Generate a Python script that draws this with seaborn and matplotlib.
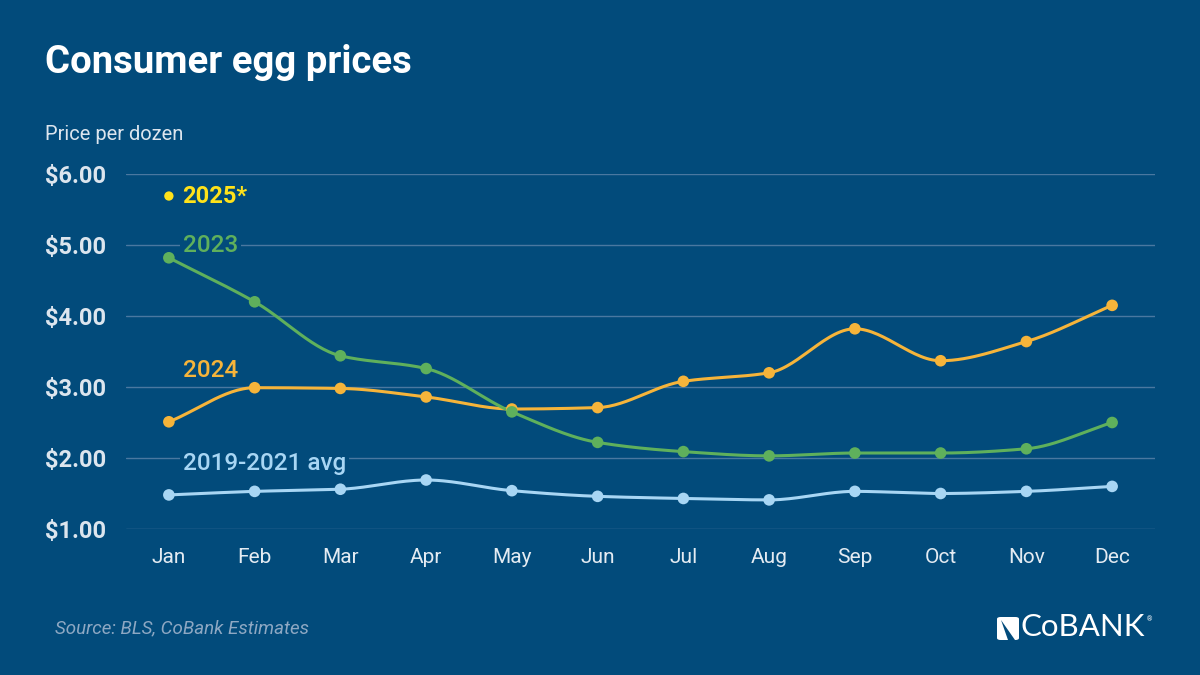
import numpy as np
import pandas as pd
import matplotlib
matplotlib.use('Agg')
import matplotlib.pyplot as plt
import seaborn as sns
from matplotlib import font_manager
from matplotlib.patches import FancyBboxPatch, Polygon

# data
months = ["Jan", "Feb", "Mar", "Apr", "May", "Jun", "Jul", "Aug", "Sep", "Oct", "Nov", "Dec"]
prices_2023 = [4.82, 4.20, 3.44, 3.26, 2.65, 2.22, 2.09, 2.03, 2.07, 2.07, 2.13, 2.50]
prices_2024 = [2.51, 2.99, 2.98, 2.86, 2.69, 2.71, 3.08, 3.20, 3.82, 3.37, 3.64, 4.15]
prices_avg = [1.48, 1.53, 1.56, 1.69, 1.54, 1.46, 1.43, 1.41, 1.53, 1.50, 1.53, 1.60]
price_2025_jan = 5.69
y_ticks = [1, 2, 3, 4, 5, 6]

BG = "#024b7b"
GRID = "#4a78a0"
TXT = "#dce5ee"
C23 = "#5fb05c"
C24 = "#f6b43a"
CAVG = "#a8d6f4"
C25 = "#ffe21a"

installed = {f.name for f in font_manager.fontManager.ttflist}
narrow = "Liberation Sans Narrow" if "Liberation Sans Narrow" in installed else "Roboto"
FAM = [narrow, 'DejaVu Sans']

sns.set_theme(style="white")
plt.rcParams['font.family'] = ['Roboto', 'DejaVu Sans']


def monotone_curve(y, n=30):
    # monotone cubic (Fritsch-Carlson), only used to draw the curved line between the points
    y = np.asarray(y, float)
    x = np.arange(len(y), dtype=float)
    d = np.diff(y)
    m = np.zeros(len(y))
    m[0], m[-1] = d[0], d[-1]
    for i in range(1, len(y) - 1):
        if d[i - 1] * d[i] > 0:
            m[i] = 2.0 / (1.0 / d[i - 1] + 1.0 / d[i])
    xs, ys = [], []
    for i in range(len(y) - 1):
        t = np.linspace(0, 1, n, endpoint=False)
        h00 = 2 * t**3 - 3 * t**2 + 1
        h10 = t**3 - 2 * t**2 + t
        h01 = -2 * t**3 + 3 * t**2
        h11 = t**3 - t**2
        xs.append(x[i] + t)
        ys.append(h00 * y[i] + h10 * m[i] + h01 * y[i + 1] + h11 * m[i + 1])
    xs.append([x[-1]])
    ys.append([y[-1]])
    return np.concatenate(xs), np.concatenate(ys)


fig = plt.figure(figsize=(12, 6.75), dpi=100, facecolor=BG)
ax = fig.add_axes([0.105, 0.2163, 0.8575, 0.5259])
ax.set_facecolor(BG)

series = [("2019-2021 avg", prices_avg, CAVG), ("2024", prices_2024, C24), ("2023", prices_2023, C23)]
idx = np.arange(len(months))
for name, vals, col in series:
    cx, cy = monotone_curve(vals)
    sns.lineplot(x=cx, y=cy, color=col, linewidth=2.2, ax=ax, zorder=3, sort=False)
    sns.scatterplot(x=idx, y=vals, color=col, s=70, edgecolor="none", ax=ax, zorder=4, clip_on=False)

sns.scatterplot(x=[0], y=[price_2025_jan], color=C25, s=45, edgecolor="none", ax=ax, zorder=4, clip_on=False)

ax.set_xlim(-0.5, 11.5)
ax.set_ylim(1, 6)
ax.set_yticks(y_ticks)
ax.set_yticklabels([f"${v:.2f}" for v in y_ticks], fontsize=17, fontweight="bold", color=TXT)
ax.set_xticks(idx)
ax.set_xticklabels(months, fontsize=15, color="#e4ebf2", family=FAM)
ax.set_xticks(np.arange(-0.5, 11.0, 1.0), minor=True)
ax.tick_params(axis="y", length=0, pad=14)
ax.tick_params(axis="x", which="major", length=0, pad=14)
ax.tick_params(axis="x", which="minor", length=8, width=1, color=GRID, direction="out")
for lab in ax.get_yticklabels():
    lab.set_family(FAM)
for y in y_ticks:
    ax.axhline(y, color=GRID, linewidth=1, zorder=1)
for s in ax.spines.values():
    s.set_visible(False)
ax.set_xlabel("")
ax.set_ylabel("")

# series labels (boxed so the gridlines break behind them)
box = dict(facecolor=BG, edgecolor="none", pad=2)
ax.text(0.16, price_2025_jan, "2025*", color=C25, fontsize=17, fontweight="bold", va="center",
        family=FAM, zorder=5)
ax.text(0.16, 5.0, "2023", color=C23, fontsize=17.5, fontweight="medium", va="center", family=FAM,
        bbox=box, zorder=5)
ax.text(0.16, 3.23, "2024", color=C24, fontsize=17.5, fontweight="medium", va="center", family=FAM,
        bbox=box, zorder=5)
ax.text(0.16, 1.92, "2019-2021 avg", color=CAVG, fontsize=17.5, fontweight="medium", va="center",
        family=FAM, bbox=box, zorder=5)

# titles
fig.text(0.0375, 0.908, "Consumer egg prices", color="white", fontsize=27.5, fontweight="bold",
         va="center", ha="left")
fig.text(0.0375, 0.80, "Price per dozen", color=TXT, fontsize=14.5, va="center", ha="left",
         family=FAM)
fig.text(0.046, 0.069, "Source: BLS, CoBank Estimates", color="#8ea8c3", fontsize=13.5,
         style="italic", va="center", ha="left", family=FAM)

# logo
fig.patches.append(FancyBboxPatch((997 / 1200, 1 - 640 / 675), 22 / 1200, 23 / 675,
                                  boxstyle="round,pad=0,rounding_size=0.003",
                                  transform=fig.transFigure, facecolor="white", edgecolor="none"))
fig.patches.append(Polygon([(1001 / 1200, 1 - 620 / 675), (1015 / 1200, 1 - 640 / 675),
                            (1008 / 1200, 1 - 640 / 675)], closed=True, transform=fig.transFigure,
                           facecolor=BG, edgecolor="none"))
logo = fig.text(1021 / 1200, 0.0705, "CoBANK", color="white", fontsize=22.5, va="center", ha="left",
                family=["Lato", "DejaVu Sans"])
ax.annotate("®", xy=(1.0, 0.9), xycoords=logo, xytext=(1, 0), textcoords="offset points",
            color="white", fontsize=5, va="top", ha="left", annotation_clip=False)

fig.savefig("out.png", dpi=100, facecolor=BG)
